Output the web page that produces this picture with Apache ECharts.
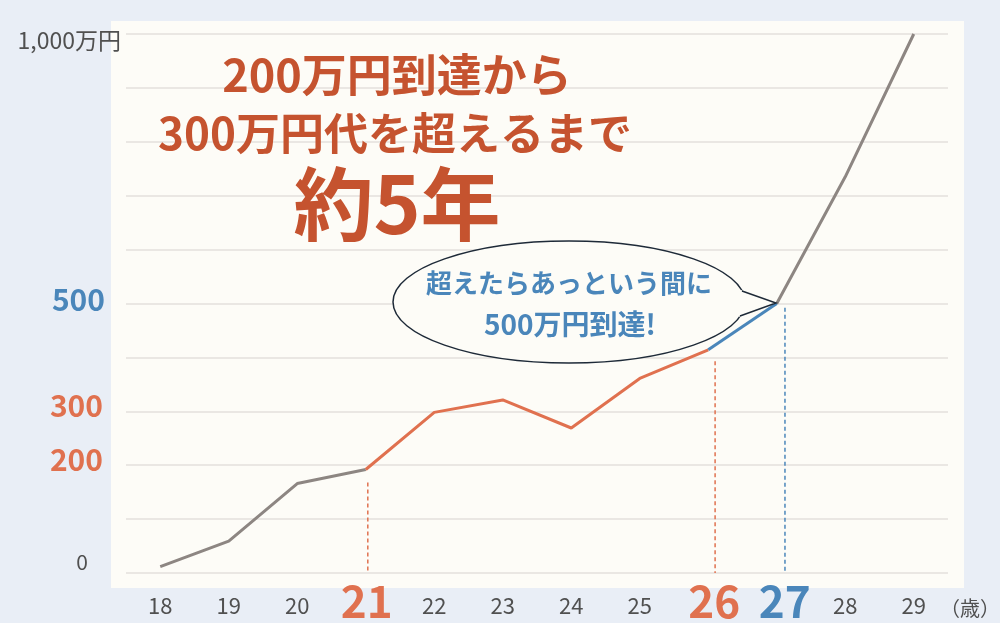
<!DOCTYPE html>
<html>
<head>
<meta charset="utf-8">
<script src="https://cdn.jsdelivr.net/npm/echarts@6/dist/echarts.min.js"></script>
<style>
html,body{margin:0;padding:0;background:#e9eef6;}
#chart{width:1000px;height:623px;}
</style>
</head>
<body>
<div id="chart"></div>
<script>
// ---- data ----
const ages = ['18','19','20','21','22','23','24','25','26','27','28','29'];
const savings = [12, 59, 166, 192, 298, 321, 269, 361, 414, 500, 735, 1000];
// segments (index ranges) : gray, orange, blue, gray
const segGray1 = [0, 3];
const segOrange = [3, 8];
const segBlue = [8, 9];
const segGray2 = [9, 11];
// dashed guide lines: position on the age axis (fractional index) and top value
const guideX = [3.03, 8.1, 9.12];
const guideTop = [168, 393, 492];
const guideColor = ['#e0714f', '#e0714f', '#4a86ba'];
// labelled ticks
const yShown = {0:'z', 200:'o', 300:'o', 500:'b', 1000:'t'};
const yTickText = {0:'0', 200:'200', 300:'300', 500:'500', 1000:'1,000万円'};
const xBig = {'21':'r21', '26':'r26', '27':'r27'};
const xUnit = '（歳）';

const FONT = '"Noto Sans CJK JP", "Noto Sans", sans-serif';
const GRAY = '#8d8682', ORANGE = '#e0714f', BLUE = '#4a86ba', CREAM = '#fdfcf7';

function seg(r){ return savings.map((v,i)=> (i>=r[0] && i<=r[1]) ? v : null); }
function lineSeries(r,color){
  return {type:'line', xAxisIndex:0, yAxisIndex:0, data:seg(r), symbol:'none', connectNulls:false,
    lineStyle:{color:color, width:3}, z:5, silent:true};
}
const guides = guideX.map((x,i)=>({
  type:'line', xAxisIndex:1, yAxisIndex:0, symbol:'none', silent:true, z:4,
  data:[[x, guideTop[i]],[x, 0]],
  lineStyle:{color:guideColor[i], width:1.5, type:[4,3]}
}));

const chart = echarts.init(document.getElementById('chart'));
chart.setOption({
  backgroundColor:'#e9eef6',
  animation:false,
  textStyle:{fontFamily:FONT},
  grid:{left:126, right:52, top:34, bottom:49},
  xAxis:[{
    type:'category', data:ages,
    axisLine:{show:false}, axisTick:{show:false},
    axisLabel:{
      interval:0,
      color:'#505050', fontSize:22, fontFamily:FONT, margin:33, verticalAlign:'middle',
      formatter:v=> xBig[v] ? '{'+xBig[v]+'|'+v+'}' : v,
      rich:{
        r21:{color:ORANGE, fontSize:44, fontWeight:'bold', fontFamily:FONT, padding:[0,0,10,2]},
        r26:{color:ORANGE, fontSize:44, fontWeight:'bold', fontFamily:FONT, padding:[0,0,10,12]},
        r27:{color:BLUE, fontSize:44, fontWeight:'bold', fontFamily:FONT, padding:[0,0,10,16]}
      }
    },
    splitLine:{show:false}
  },{
    type:'value', min:-0.5, max:11.5, show:false
  }],
  yAxis:{
    type:'value', min:0, max:1000, interval:100,
    axisLine:{show:false}, axisTick:{show:false},
    splitLine:{lineStyle:{color:'#e3e1dc', width:1.5}},
    axisLabel:{
      margin:5, fontFamily:FONT,
      formatter:v=> yShown[v] ? '{'+yShown[v]+'|'+yTickText[v]+'}' : '',
      rich:{
        z:{color:'#505050', fontSize:21, fontFamily:FONT, padding:[0,33,22,0]},
        o:{color:ORANGE, fontSize:30, fontWeight:'bold', fontFamily:FONT, padding:[0,18,12,0]},
        b:{color:BLUE, fontSize:30, fontWeight:'bold', fontFamily:FONT, padding:[0,16,8,0]},
        t:{color:'#505050', fontSize:23, fontFamily:FONT, padding:[12,0,0,0]}
      }
    }
  },
  series:[
    lineSeries(segGray1, GRAY),
    lineSeries(segOrange, ORANGE),
    lineSeries(segBlue, BLUE),
    lineSeries(segGray2, GRAY)
  ].concat(guides),
  graphic:[
    {type:'rect', shape:{x:111, y:21, width:853, height:567}, style:{fill:CREAM}, z:-10, silent:true},
    {type:'text', x:970, y:608, z:50, style:{text:xUnit, fill:'#505050', font:'20px '+FONT, textAlign:'center', textVerticalAlign:'middle'}},
    {type:'text', x:397, y:75, z:50, style:{text:'200万円到達から', fill:'#c5532f', font:'bold 45px '+FONT, textAlign:'center', textVerticalAlign:'middle'}},
    {type:'text', x:395, y:133, z:50, style:{text:'300万円代を超えるまで', fill:'#c5532f', font:'bold 44px '+FONT, textAlign:'center', textVerticalAlign:'middle'}},
    {type:'text', x:397, y:204, z:50, style:{text:'約5年', fill:'#c5532f', font:'bold 80px '+FONT, textAlign:'center', textVerticalAlign:'middle'}},
    {type:'ellipse', z:60, shape:{cx:569, cy:302, rx:176, ry:61}, style:{fill:CREAM, stroke:'#1e2a38', lineWidth:1.5}, silent:true},
    {type:'polygon', z:61, shape:{points:[[741,290],[776,303],[739.5,317],[734,303]]}, style:{fill:CREAM, stroke:null}, silent:true},
    {type:'polyline', z:62, shape:{points:[[742,291],[776,303],[740,316]]}, style:{stroke:'#1e2a38', lineWidth:1.5, fill:null}, silent:true},
    {type:'text', x:569, y:283, z:63, style:{text:'超えたらあっという間に', fill:BLUE, font:'bold 26px '+FONT, textAlign:'center', textVerticalAlign:'middle'}},
    {type:'text', x:570, y:324, z:63, style:{text:'500万円到達!', fill:BLUE, font:'bold 28px '+FONT, textAlign:'center', textVerticalAlign:'middle'}}
  ]
});
</script>
</body>
</html>
